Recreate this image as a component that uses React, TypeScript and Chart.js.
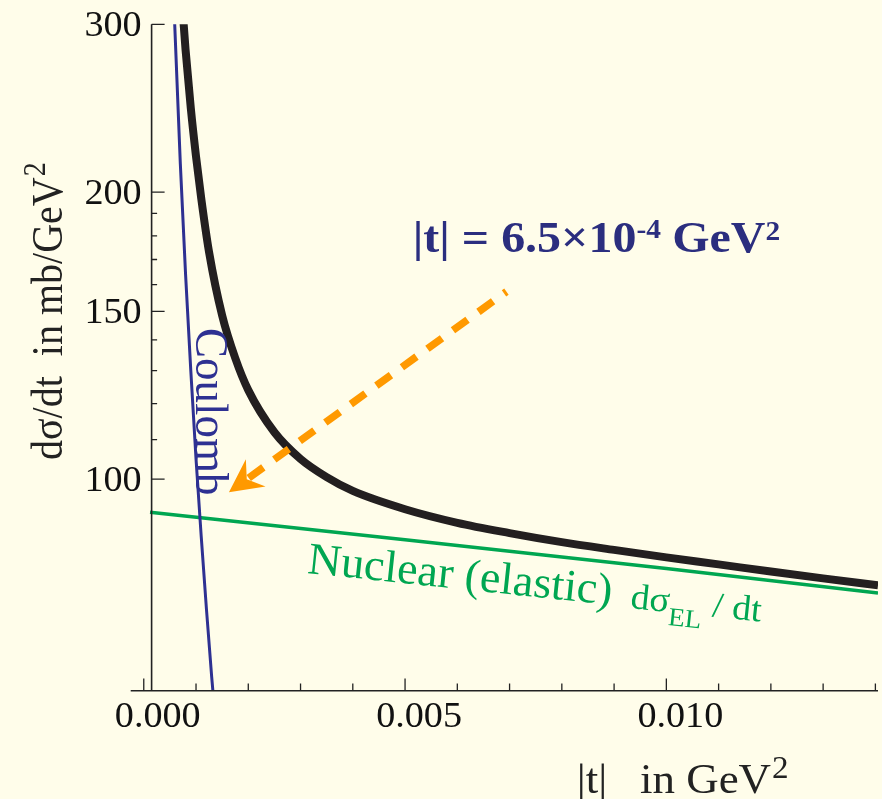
import React, { useEffect, useRef } from "react";
import { Chart, registerables } from "chart.js";

Chart.register(...registerables);

// ---- data (|t| in GeV^2, dσ/dt in mb/GeV^2) ----
const totalT = [0.0007, 0.00075, 0.0008, 0.0009, 0.001, 0.0011, 0.00125, 0.0015, 0.00175, 0.002, 0.0025, 0.003, 0.0035, 0.004, 0.005, 0.006, 0.007, 0.008, 0.009, 0.01, 0.011, 0.012, 0.013, 0.01405];
const totalSigma = [337, 307, 282, 245, 218, 197, 173, 148.5, 134, 124, 112, 105, 100.5, 97.2, 93, 90, 87.8, 85.9, 84.3, 82.8, 81.4, 80, 78.7, 77.4];

const coulombT = [0.00057, 0.00059, 0.0007, 0.0008, 0.0009, 0.001, 0.0011, 0.0012, 0.0013, 0.00134];
const coulombSigma = [325, 302, 214, 164, 130, 105, 87, 73, 62, 58.5];

const nuclearT = [0.00012, 0.005, 0.01, 0.01405];
const nuclearSigma = [92.35, 86.4, 80.6, 75.95];

const xMajorTicks = [0, 0.005, 0.01];
const xTickLabels = ["0.000", "0.005", "0.010"];
const xMinorTicks = [0.001, 0.002, 0.003, 0.004, 0.006, 0.007, 0.008, 0.009, 0.011, 0.012, 0.013, 0.014];
const yMajorTicks = [100, 150, 200, 300];
const yTickLabels = ["100", "150", "200", "300"];
const yMinorTicks = [110, 120, 130, 140, 160, 170, 180, 190];

const xRange = [-0.00025, 0.01405];
const yRange = [60, 300];
const yAxisAtT = 0.00015;

// annotation anchors in data coordinates
const arrowFrom = { t: 0.00694, v: 157.3 };
const arrowTo = { t: 0.00163, v: 96.9 };
const titleAnchor = { t: 0.005147, v: 173.1 };
const coulombAnchor = { t: 0.000995, v: 144.1 };
const nuclearAnchor = { t: 0.003119, v: 79.75 };
const dsigmaAnchor = { t: 0.0093, v: 73.28 };

const BG = "#FFFDEA";
const BLACK = "#231F20";
const BLUE = "#2E3192";
const TITLE_BLUE = "#2B2E7F";
const GREEN = "#00A651";
const ORANGE = "#FF9900";
const AXIS = "#222222";
const SERIF = "'Liberation Serif', 'Times New Roman', serif";

function txt(
  ctx: CanvasRenderingContext2D,
  s: string,
  x: number,
  y: number,
  font: string,
  color: string,
  align: CanvasTextAlign = "left",
  rot = 0,
  sx = 1,
  sy = 1
) {
  ctx.save();
  ctx.translate(x, y);
  ctx.rotate(rot);
  ctx.scale(sx, sy);
  ctx.font = font;
  ctx.fillStyle = color;
  ctx.textAlign = align;
  ctx.textBaseline = "alphabetic";
  ctx.fillText(s, 0, 0);
  ctx.restore();
}

function width(ctx: CanvasRenderingContext2D, s: string, font: string) {
  ctx.save();
  ctx.font = font;
  const w = ctx.measureText(s).width;
  ctx.restore();
  return w;
}

const decorPlugin = {
  id: "decor",
  afterDatasetsDraw(chart: any) {
    const ctx: CanvasRenderingContext2D = chart.ctx;
    const xs = chart.scales.x;
    const ys = chart.scales.y;
    const ca = chart.chartArea;
    const px = (t: number) => xs.getPixelForValue(t);
    const py = (v: number) => ys.getPixelForValue(v);

    // ---- orange dashed arrow ----
    const x0 = px(arrowFrom.t), y0 = py(arrowFrom.v);
    const x1 = px(arrowTo.t), y1 = py(arrowTo.v);
    const dx = x1 - x0, dy = y1 - y0;
    const L = Math.hypot(dx, dy);
    const ux = dx / L, uy = dy / L;
    const nx = -uy, ny = ux;
    const headLen = 33, headHalf = 16.8, notch = 22;
    ctx.save();
    ctx.strokeStyle = ORANGE;
    ctx.lineWidth = 7.5;
    ctx.lineCap = "butt";
    ctx.setLineDash([18, 13.5]);
    ctx.lineDashOffset = 15;
    ctx.beginPath();
    ctx.moveTo(x0, y0);
    ctx.lineTo(x1 - ux * notch, y1 - uy * notch);
    ctx.stroke();
    ctx.setLineDash([]);
    ctx.fillStyle = ORANGE;
    ctx.beginPath();
    ctx.moveTo(x1, y1);
    ctx.lineTo(x1 - ux * headLen + nx * headHalf, y1 - uy * headLen + ny * headHalf);
    ctx.lineTo(x1 - ux * notch, y1 - uy * notch);
    ctx.lineTo(x1 - ux * headLen - nx * headHalf, y1 - uy * headLen - ny * headHalf);
    ctx.closePath();
    ctx.fill();
    ctx.restore();

    // ---- axes ----
    ctx.save();
    ctx.strokeStyle = AXIS;
    ctx.lineWidth = 1.6;
    const yAxisX = px(yAxisAtT);
    ctx.beginPath();
    ctx.moveTo(ca.left, ca.bottom);
    ctx.lineTo(ca.right, ca.bottom);
    ctx.moveTo(yAxisX, ca.top);
    ctx.lineTo(yAxisX, ca.bottom);
    ctx.stroke();
    ctx.lineWidth = 1.3;
    ctx.beginPath();
    xMajorTicks.forEach((t) => {
      ctx.moveTo(px(t), ca.bottom);
      ctx.lineTo(px(t), ca.bottom - 12.3);
    });
    xMinorTicks.forEach((t) => {
      ctx.moveTo(px(t), ca.bottom);
      ctx.lineTo(px(t), ca.bottom - 7.3);
    });
    yMajorTicks.forEach((v) => {
      ctx.moveTo(yAxisX, py(v));
      ctx.lineTo(yAxisX + 13, py(v));
    });
    yMinorTicks.forEach((v) => {
      ctx.moveTo(yAxisX, py(v));
      ctx.lineTo(yAxisX + 5.5, py(v));
    });
    ctx.stroke();
    ctx.restore();

    const tickFont = `35px ${SERIF}`;
    xMajorTicks.forEach((t, i) => {
      txt(ctx, xTickLabels[i], px(t) + 14, ca.bottom + 36, tickFont, "#111", "center", 0, 1.09);
    });
    yMajorTicks.forEach((v, i) => {
      txt(ctx, yTickLabels[i], 141.7, py(v) + 11.5, tickFont, "#111", "right", 0, 1.09);
    });

    // ---- axis titles ----
    const xtFont = `42px ${SERIF}`;
    const xsx = 1.07;
    txt(ctx, "|t|", 576.7, ca.bottom + 102.6, xtFont, "#222", "left", 0, xsx);
    txt(ctx, "in GeV", 640, ca.bottom + 102.6, xtFont, "#222", "left", 0, xsx);
    const wInGeV = width(ctx, "in GeV", xtFont) * xsx;
    txt(ctx, "2", 640 + wInGeV + 1, ca.bottom + 87, `31px ${SERIF}`, "#222", "left", 0, xsx);

    const ytFont = `40px ${SERIF}`;
    const ytMain = "d\u03C3/dt  in mb/GeV";
    txt(ctx, ytMain, 61.7, 460, ytFont, "#222", "left", -Math.PI / 2, 1, 1.1);
    const wYt = width(ctx, ytMain, ytFont);
    ctx.save();
    ctx.translate(61.7, 460);
    ctx.rotate(-Math.PI / 2);
    ctx.scale(1, 1.1);
    ctx.font = `28px ${SERIF}`;
    ctx.fillStyle = "#222";
    ctx.fillText("2", wYt + 1, -15);
    ctx.restore();

    // ---- annotation texts ----
    const tFont = `bold 44px ${SERIF}`;
    const tSup = `bold 27px ${SERIF}`;
    const tsx = 1.09;
    let tx = px(titleAnchor.t);
    const tby = py(titleAnchor.v);
    const p1 = "|t| = 6.5\u00D710";
    txt(ctx, p1, tx, tby, tFont, TITLE_BLUE, "left", 0, tsx);
    tx += width(ctx, p1, tFont) * tsx;
    txt(ctx, "-4", tx, tby - 14, tSup, TITLE_BLUE, "left", 0, tsx);
    tx += width(ctx, "-4 ", tSup) * tsx + 4;
    txt(ctx, "GeV", tx, tby, tFont, TITLE_BLUE, "left", 0, tsx);
    tx += width(ctx, "GeV", tFont) * tsx;
    txt(ctx, "2", tx, tby - 12, tSup, TITLE_BLUE, "left", 0, tsx);

    txt(ctx, "Coulomb", px(coulombAnchor.t), py(coulombAnchor.v), `45px ${SERIF}`, BLUE, "left", Math.PI / 2, 1, 1.05);

    const rot = (6 * Math.PI) / 180;
    txt(ctx, "Nuclear (elastic)", px(nuclearAnchor.t), py(nuclearAnchor.v), `45px ${SERIF}`, GREEN, "left", rot, 1.025);

    const dx0 = px(dsigmaAnchor.t), dy0 = py(dsigmaAnchor.v);
    const f1 = `36px ${SERIF}`;
    const f2 = `26px ${SERIF}`;
    ctx.save();
    ctx.translate(dx0, dy0);
    ctx.rotate(rot);
    ctx.scale(1.05, 1);
    ctx.fillStyle = GREEN;
    ctx.font = f1;
    ctx.fillText("d\u03C3", 0, 0);
    let w = ctx.measureText("d\u03C3").width;
    ctx.font = f2;
    ctx.fillText("EL", w, 13);
    w += ctx.measureText("EL").width;
    ctx.font = f1;
    ctx.fillText(" / dt", w, 0);
    ctx.restore();
  },
};

export default function App() {
  const ref = useRef<HTMLCanvasElement>(null);
  useEffect(() => {
    const canvas = ref.current;
    if (!canvas) return;
    const mk = (ts: number[], vs: number[]) => ts.map((t, i) => ({ x: t, y: vs[i] }));
    const chart = new Chart(canvas, {
      type: "scatter",
      data: {
        datasets: [
          {
            label: "Nuclear (elastic)",
            data: mk(nuclearT, nuclearSigma),
            showLine: true,
            borderColor: GREEN,
            backgroundColor: GREEN,
            borderWidth: 3.5,
            pointRadius: 0,
            order: 3,
          },
          {
            label: "Coulomb",
            data: mk(coulombT, coulombSigma),
            showLine: true,
            borderColor: BLUE,
            backgroundColor: BLUE,
            borderWidth: 3,
            pointRadius: 0,
            cubicInterpolationMode: "monotone",
            order: 2,
          },
          {
            label: "Total",
            data: mk(totalT, totalSigma),
            showLine: true,
            borderColor: BLACK,
            backgroundColor: BLACK,
            borderWidth: 8,
            pointRadius: 0,
            cubicInterpolationMode: "monotone",
            order: 1,
          },
        ],
      },
      options: {
        responsive: false,
        animation: false,
        events: [],
        layout: { padding: { left: 130.7, right: 4, top: 24.3, bottom: 108.3 } },
        plugins: {
          legend: { display: false },
          tooltip: { enabled: false },
          title: { display: false },
        },
        scales: {
          x: { type: "linear", min: xRange[0], max: xRange[1], display: false },
          y: { type: "logarithmic", min: yRange[0], max: yRange[1], display: false },
        },
      } as any,
      plugins: [decorPlugin],
    });
    return () => chart.destroy();
  }, []);
  return (
    <div
      style={{
        position: "fixed",
        left: 0,
        top: 0,
        width: 882,
        height: 799,
        background: BG,
        overflow: "hidden",
      }}
    >
      <canvas ref={ref} width={882} height={799} style={{ display: "block", width: 882, height: 799 }} />
    </div>
  );
}
